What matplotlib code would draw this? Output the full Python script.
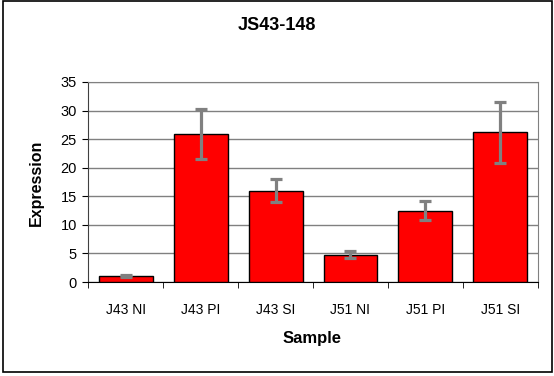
import matplotlib.pyplot as plt
import numpy as np
from matplotlib.patches import Rectangle

plt.rcParams['font.family'] = ['Liberation Sans', 'DejaVu Sans']

samples = ["J43 NI", "J43 PI", "J43 SI", "J51 NI", "J51 PI", "J51 SI"]
expression = [1.0, 25.9, 16.0, 4.8, 12.5, 26.2]
errors = [0.15, 4.45, 1.95, 0.57, 1.6, 5.3]

fig = plt.figure(figsize=(5.54, 3.76), dpi=100)
ax = fig.add_axes([0.159, 0.25, 0.812, 0.532])

x = np.arange(len(samples))
ax.bar(x, expression, width=0.72, color="#ff0000", edgecolor="black", linewidth=1, zorder=3)
ax.errorbar(x, expression, yerr=errors, fmt="none", ecolor="#808080",
            elinewidth=2.3, capsize=4.5, capthick=2.3, zorder=4)

ax.set_xlim(-0.5, len(samples) - 0.5)
ax.set_ylim(0, 35)
ax.set_yticks(range(0, 36, 5))
ax.set_xticks(x)
ax.set_xticklabels(samples)
ax.set_xticks(np.arange(-0.5, len(samples), 1), minor=True)
ax.tick_params(axis="x", which="major", length=0, pad=15, labelsize=10)
ax.tick_params(axis="x", which="minor", length=4, direction="out", color="black")
ax.tick_params(axis="y", length=4, direction="out", labelsize=10.5, pad=4)
ax.grid(axis="y", color="#808080", linewidth=1, zorder=0)

for side in ["top", "right"]:
    ax.spines[side].set_color("#808080")
ax.spines["left"].set_color("#404040")
ax.spines["bottom"].set_color("black")

fig.text(0.563, 0.101, "Sample", ha="center", va="center", fontsize=12, fontweight="bold")
fig.text(0.065, 0.513, "Expression", ha="center", va="center", rotation=90,
         fontsize=11.5, fontweight="bold")
fig.text(0.5, 0.932, "JS43-148", ha="center", va="center", fontsize=13, fontweight="bold")

fig.patches.append(Rectangle((0.005, 0.011), 0.991, 0.986, transform=fig.transFigure,
                             fill=False, edgecolor="black", linewidth=1.2))

fig.savefig("out.png", dpi=100)
